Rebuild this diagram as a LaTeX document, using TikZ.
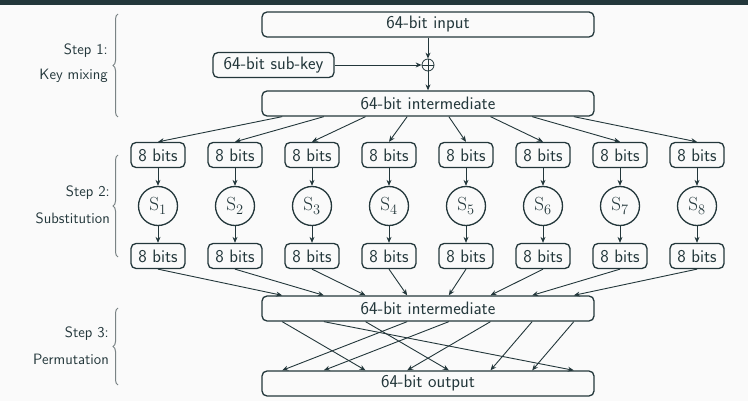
\documentclass[tikz,border=0pt]{standalone}
\usepackage{fontspec}
\usetikzlibrary{arrows.meta,calc,decorations.pathreplacing}
\definecolor{mteal}{HTML}{23373B}
\definecolor{mbg}{HTML}{FAFAFA}
\definecolor{mbrace}{HTML}{7A8385}
\begin{document}
\begin{tikzpicture}[x=1pt,y=-1pt,
  box/.style={draw=mteal, line width=1.3pt, rounded corners=5pt, text=mteal,
    font=\fontsize{18}{21}\selectfont\sffamily, inner sep=0pt, minimum height=25pt},
  wide/.style={box, minimum width=332pt},
  bits/.style={box, minimum width=54pt},
  sbox/.style={draw=mteal, line width=1.3pt, circle, minimum size=39pt, inner sep=0pt,
    text=mteal, font=\fontsize{19}{22}\selectfont},
  xor/.style={draw=mteal, line width=0.8pt, circle, minimum size=12pt, inner sep=0pt,
    path picture={\draw[mteal, line width=0.8pt]
      (path picture bounding box.north) -- (path picture bounding box.south)
      (path picture bounding box.west) -- (path picture bounding box.east);}},
  arr/.style={draw=mteal, line width=0.9pt, -{Stealth[length=6pt,width=5pt]}},
  lbl/.style={anchor=east, text=mteal, font=\fontsize{15}{18}\selectfont\sffamily, inner sep=0pt},
  brc/.style={draw=mbrace, line width=1pt, decorate, decoration={brace, amplitude=5pt}}
]
\fill[mbg] (0,0) rectangle (748,401);
\fill[mteal] (0,0) rectangle (748,5.5);
\useasboundingbox (0,0) rectangle (748,401);

% Step 1
\node[wide] (in) at (428,24.5) {64-bit input};
\node[box, minimum width=121pt] (key) at (273.5,65) {64-bit sub-key};
\node[xor] (x) at (428,65) {};
\node[wide] (m1) at (428,103.5) {64-bit intermediate};
\draw[arr] (in) -- (x);
\draw[arr] (key) -- (x);
\draw[arr] (x) -- (m1);

% Step 2
\foreach \i in {1,...,8} {
  \pgfmathsetmacro\cx{158+77*(\i-1)}
  \node[bits] (t\i) at (\cx,155) {8 bits};
  \node[sbox] (s\i) at (\cx,206) {$\mathrm{S}_{\i}$};
  \node[bits] (b\i) at (\cx,256) {8 bits};
}
\node[wide] (m2) at (428,308.5) {64-bit intermediate};
\node[wide] (out) at (428,383.5) {64-bit output};

\foreach \i in {1,...,8} {
  \coordinate (ms\i) at ($(m1.south west)!{(2*\i-1)/16}!(m1.south east)$);
  \coordinate (mn\i) at ($(m2.north west)!{(2*\i-1)/16}!(m2.north east)$);
  \coordinate (ps\i) at ($(m2.south west)!{(2*\i-1)/16}!(m2.south east)$);
  \coordinate (on\i) at ($(out.north west)!{(2*\i-1)/16}!(out.north east)$);
  \draw[arr] (ms\i) -- (t\i.north);
  \draw[arr] (t\i) -- (s\i);
  \draw[arr] (s\i) -- (b\i);
  \draw[arr] (b\i.south) -- (mn\i);
}

% Step 3
\foreach \a/\b in {1/3,2/8,3/5,4/1,5/2,6/4,7/6,8/7}
  \draw[arr] (ps\a) -- (on\b);

% braces and labels
\draw[brc] (118,117) -- (118,14);
\draw[brc] (118,257) -- (118,155);
\draw[brc] (118,385) -- (118,308);
\node[lbl] (l1a) at (108,51) {Step 1:};
\node[lbl] (l1b) at (108,76) {Key mixing};
\node[lbl] (l2a) at (110,193) {Step 2:};
\node[lbl] (l2b) at (110,218) {Substitution};
\node[lbl] (l3a) at (109,334) {Step 3:};
\node[lbl] (l3b) at (109,359) {Permutation};
\end{tikzpicture}
\end{document}
